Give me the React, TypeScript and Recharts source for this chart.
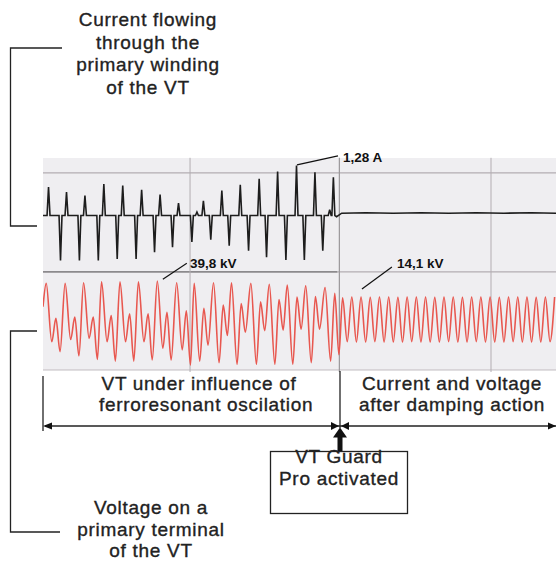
import React from "react";
import { ComposedChart, Line, XAxis, YAxis, ReferenceLine } from "recharts";

// time axis in ms (about 2.17 ms per pixel of the printout)
const TIME_END = 1113;
const DAMPING_AT = 643;

// current through the primary winding (A): spikes
const upTimes = [12, 51, 91, 132, 173, 214, 254, 294, 334, 348, 388, 428, 469, 509, 550, 590, 622, 630];
const upPeaks = [0.73, 0.6, 0.51, 0.81, 0.77, 0.66, 0.54, 0.32, 0.09, 0.38, 0.64, 0.79, 0.94, 1.13, 1.28, 1.11, 0.15, 0.98];
const downTimes = [38, 79, 120, 161, 202, 242, 281, 323, 364, 404, 446, 485, 527, 567, 607];
const downPeaks = [-1.15, -1.15, -1.15, -1.11, -1.11, -0.94, -0.81, -0.68, -0.62, -0.77, -0.9, -1.07, -1.14, -1.14, -0.9];
// after damping: almost flat
const tailTimes = [637, 648, 700, 760, 820, 880, 940, 1000, 1060, 1113];
const tailCurrent = [-0.03, 0.06, 0.07, 0.06, 0.07, 0.06, 0.07, 0.06, 0.07, 0.06];

// voltage on the primary terminal (kV): ferroresonance, one row per 25 Hz cycle
const ferroPeakTimes = [7, 48, 88, 127, 167, 207, 248, 290, 328, 370, 409, 451, 491, 530, 570, 612];
const ferroPeaks = [22.6, 22.6, 23.0, 23.6, 23.6, 23.6, 24.0, 23.0, 22.6, 23.0, 23.0, 22.6, 22.0, 21.5, 21.0, 20.0];
const ferroLow1 = [-13.9, -12.5, -11.8, -13.9, -13.9, -13.9, -18.0, -19.0, -26.0, -27.0, -28.0, -28.0, -28.0, -28.0, -27.0, -26.0];
const ferroBump = [0.7, 1.5, 1.5, 2.5, 3.5, 3.5, 4.5, 5.5, 7.0, 9.0, 10.0, 11.0, 12.5, 14.0, 14.3, 16.4];
const ferroLow2 = [-20.1, -22.8, -25.0, -26.0, -26.0, -25.3, -25.3, -28.4, -16.0, -10.0, -8.0, -7.0, -6.6, -6.0, -6.0, -22.0];
const LOW1_AT = 12;
const BUMP_AT = 21;
const LOW2_AT = 30;

// after damping: 50 Hz, peaks every 20 ms from 650 ms
const postStart = 650;
const postPeaks = [13.5, 14.1, 14.1, 13.8, 14.1, 14.1, 13.8, 14.1, 14.1, 14.1, 13.8, 14.1, 14.1, 13.8, 14.1, 14.1, 14.1, 13.8, 14.1, 14.1, 14.1, 13.8, 14.1, 14.1];
const postTroughs = [-13.9, -14.1, -14.1, -13.8, -14.1, -14.1, -14.1, -13.8, -14.1, -14.1, -14.1, -13.8, -14.1, -14.1, -13.8, -14.1, -14.1, -14.1, -13.8, -14.1, -14.1, -14.1, -13.8];

const SPIKE_HALF = 3.2;

const currentData = (() => {
  const spikes = [
    ...upTimes.map((t, i) => ({ t, a: upPeaks[i] })),
    ...downTimes.map((t, i) => ({ t, a: downPeaks[i] })),
  ].sort((p, q) => p.t - q.t);
  const pts: { t: number; a: number }[] = [{ t: 0, a: 0 }];
  spikes.forEach((s) => {
    pts.push({ t: s.t - SPIKE_HALF, a: 0 }, { t: s.t, a: s.a }, { t: s.t + SPIKE_HALF, a: 0 });
  });
  tailTimes.forEach((t, i) => pts.push({ t, a: tailCurrent[i] }));
  return pts.sort((p, q) => p.t - q.t);
})();

const voltageData = (() => {
  const pts: { t: number; v: number }[] = [{ t: 0, v: 8 }];
  ferroPeakTimes.forEach((t, i) => {
    pts.push(
      { t, v: ferroPeaks[i] },
      { t: t + LOW1_AT, v: ferroLow1[i] },
      { t: t + BUMP_AT, v: ferroBump[i] },
      { t: t + LOW2_AT, v: ferroLow2[i] }
    );
  });
  postPeaks.forEach((p, k) => {
    pts.push({ t: postStart + k * 20, v: p });
    if (k < postTroughs.length) pts.push({ t: postStart + k * 20 + 10, v: postTroughs[k] });
  });
  return pts;
})();

const grid = "#b3adb2";
const ink = "#222";

const textStyle: React.CSSProperties = {
  position: "absolute",
  fontFamily: "'Liberation Sans', Arial, sans-serif",
  fontSize: 19,
  letterSpacing: 0.7,
  color: ink,
  textAlign: "center",
  WebkitTextStroke: "0.35px #222",
  whiteSpace: "nowrap",
};

const tagStyle: React.CSSProperties = {
  position: "absolute",
  fontFamily: "'Liberation Sans', Arial, sans-serif",
  fontWeight: 700,
  fontSize: 13.5,
  color: "#111",
  lineHeight: "15px",
};

export default function App() {
  return (
    <div style={{ position: "absolute", left: 0, top: 0, width: 556, height: 561, background: "#fff", overflow: "hidden" }}>
      {/* paper of the recorder */}
      <div style={{ position: "absolute", left: 43, top: 158, width: 513, height: 213, background: "#efeef1" }} />

      <div style={{ position: "absolute", left: 43, top: 150 }}>
        <ComposedChart width={513} height={222} margin={{ top: 0, right: 0, bottom: 0, left: 0 }}>
          <XAxis type="number" dataKey="t" domain={[0, TIME_END]} hide allowDataOverflow />
          <YAxis yAxisId="i" type="number" domain={[-4.01, 1.68]} hide allowDataOverflow />
          <YAxis yAxisId="v" type="number" domain={[-32.8, 105.9]} hide allowDataOverflow />

          <ReferenceLine yAxisId="i" y={1.095} stroke={grid} strokeWidth={1.2} />
          <ReferenceLine yAxisId="i" segment={[{ x: 0, y: -1.444 }, { x: DAMPING_AT - 4, y: -1.444 }]} stroke="#8c8a8d" strokeWidth={1.6} />
          <ReferenceLine yAxisId="i" segment={[{ x: DAMPING_AT - 4, y: -1.444 }, { x: TIME_END, y: -1.444 }]} stroke={grid} strokeWidth={1.2} />
          <ReferenceLine yAxisId="i" y={-3.956} stroke="#c9c4c8" strokeWidth={1} />
          <ReferenceLine yAxisId="i" segment={[{ x: 319, y: 1.48 }, { x: 319, y: -4.01 }]} stroke={grid} strokeWidth={1} />
          <ReferenceLine yAxisId="i" segment={[{ x: DAMPING_AT, y: 1.48 }, { x: DAMPING_AT, y: -4.01 }]} stroke="#9a979a" strokeWidth={1.2} />
          <ReferenceLine yAxisId="i" segment={[{ x: 972, y: 1.48 }, { x: 972, y: -4.01 }]} stroke={grid} strokeWidth={1} />

          <Line
            data={voltageData}
            yAxisId="v"
            dataKey="v"
            type="monotone"
            stroke="#e8574f"
            strokeWidth={1.6}
            dot={false}
            isAnimationActive={false}
          />
          <Line
            data={currentData}
            yAxisId="i"
            dataKey="a"
            type="linear"
            stroke="#1d1d1d"
            strokeWidth={1.6}
            dot={false}
            isAnimationActive={false}
          />

          {/* leader lines to the marked values */}
          <ReferenceLine yAxisId="i" segment={[{ x: 551, y: 1.3 }, { x: 640, y: 1.53 }]} stroke="#111" strokeWidth={1.2} />
          <ReferenceLine yAxisId="v" segment={[{ x: 260, y: 25.1 }, { x: 312, y: 35.1 }]} stroke="#111" strokeWidth={1.2} />
          <ReferenceLine yAxisId="v" segment={[{ x: 692, y: 19.1 }, { x: 757, y: 32.8 }]} stroke="#111" strokeWidth={1.2} />
        </ComposedChart>
      </div>

      <div style={{ ...tagStyle, left: 343, top: 150 }}>1,28 A</div>
      <div style={{ ...tagStyle, left: 190, top: 256 }}>39,8 kV</div>
      <div style={{ ...tagStyle, left: 397, top: 256 }}>14,1 kV</div>

      {/* brackets, arrows, box */}
      <svg width={556} height={561} style={{ position: "absolute", left: 0, top: 0 }}>
        <g stroke="#222" strokeWidth={1.3} fill="none">
          <polyline points="62,48 10.5,48 10.5,226 37,226" />
          <polyline points="37,331 10.5,331 10.5,532 60,532" />
          <line x1={43} y1={376} x2={43} y2={431} />
          <line x1={340} y1={371} x2={340} y2={428} />
          <line x1={45} y1={426} x2={556} y2={426} />
          <rect x={270.5} y={451.5} width={137} height={62} />
        </g>
        <g fill="#111">
          <polygon points="43,426 52,422.5 52,429.5" />
          <polygon points="339,426 331,422 331,430" />
          <polygon points="341,426 349,422 349,430" />
          <polygon points="556,426 548,422.5 548,429.5" />
          <rect x={337.5} y={436} width={5} height={15} />
          <polygon points="340,427.5 333,437.5 347,437.5" />
        </g>
      </svg>

      <div style={{ ...textStyle, left: 48, top: 9, width: 200, lineHeight: "22.7px" }}>
        Current flowing
        <br />
        through the
        <br />
        primary winding
        <br />
        of the VT
      </div>
      <div style={{ ...textStyle, left: 99, top: 374, width: 200, lineHeight: "20.5px" }}>
        VT under influence of
        <br />
        ferroresonant oscilation
      </div>
      <div style={{ ...textStyle, left: 352, top: 374, width: 200, lineHeight: "20.5px" }}>
        Current and voltage
        <br />
        after damping action
      </div>
      <div style={{ ...textStyle, left: 270, top: 446, width: 138, lineHeight: "21.5px" }}>
        VT Guard
        <br />
        Pro activated
      </div>
      <div style={{ ...textStyle, left: 51, top: 497, width: 200, lineHeight: "21.5px" }}>
        Voltage on a
        <br />
        primary terminal
        <br />
        of the VT
      </div>
    </div>
  );
}
